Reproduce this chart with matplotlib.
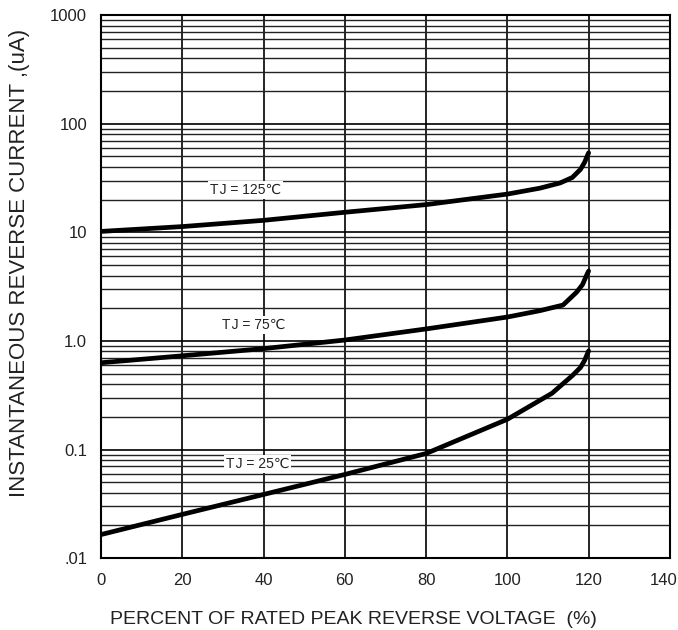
import numpy as np
import matplotlib.pyplot as plt
from matplotlib.ticker import FixedLocator, NullFormatter
from matplotlib.transforms import offset_copy

plt.rcParams['font.family'] = ['Liberation Sans', 'DejaVu Sans']

# Curvas
x_125 = [0, 20, 40, 60, 80, 100, 108, 113, 116, 118, 119, 120]
y_125 = [10.2, 11.3, 12.9, 15.3, 18.0, 22.5, 25.5, 28.5, 32.0, 38.0, 44.0, 54.0]

x_75 = [0, 20, 40, 60, 80, 100, 108, 113.7, 117, 118.5, 119.6, 120]
y_75 = [0.63, 0.73, 0.85, 1.02, 1.29, 1.66, 1.9, 2.14, 2.8, 3.3, 4.1, 4.4]

x_25 = [0, 20, 40, 60, 80, 100, 111, 116, 118, 119, 120]
y_25 = [0.0165, 0.0253, 0.0386, 0.059, 0.092, 0.19, 0.33, 0.48, 0.57, 0.66, 0.81]

etiquetas = ['T\u200aJ = 125\u2103', 'T\u200aJ = 75\u2103', 'T\u200aJ = 25\u2103']
pos_etiquetas = [(35.5, 24.5), (37.5, 1.40), (38.5, 0.074)]

yticks = [0.01, 0.1, 1, 10, 100, 1000]
ytick_labels = ['.01', '0.1', '1.0', '10', '100', '1000']
xticks = [0, 20, 40, 60, 80, 100, 120, 140]

fig = plt.figure(figsize=(6.78, 6.30), dpi=100)
ax = fig.add_axes([0.149, 0.114, 0.839, 0.862])

ax.set_yscale('log')
ax.set_xlim(0, 140)
ax.set_ylim(0.01, 1000)

# Rejilla
minors = [m * 10.0 ** d for d in range(-2, 3) for m in range(2, 10)]
ax.yaxis.set_minor_locator(FixedLocator(minors))
ax.yaxis.set_minor_formatter(NullFormatter())
ax.set_yticks(yticks)
ax.set_yticklabels(ytick_labels)
ax.set_xticks(xticks)
ax.grid(True, which='major', axis='both', color='black', linewidth=1.2)
ax.grid(True, which='minor', axis='y', color='#222222', linewidth=1.0)
ax.tick_params(which='both', length=0, labelsize=12, colors='#222222')
ax.tick_params(axis='x', pad=11)
ax.tick_params(axis='y', pad=10)
for s in ax.spines.values():
    s.set_linewidth(1.5)

# el ultimo rotulo del eje x se desplaza un poco para que quepa
ult = ax.get_xticklabels()[-1]
ult.set_transform(offset_copy(ult.get_transform(), fig=fig, x=-6, units='dots'))

ax.plot(x_125, y_125, color='black', linewidth=3.4, solid_capstyle='round')
ax.plot(x_75, y_75, color='black', linewidth=3.4, solid_capstyle='round')
ax.plot(x_25, y_25, color='black', linewidth=3.4, solid_capstyle='round')

for txt, (xp, yp) in zip(etiquetas, pos_etiquetas):
    ax.text(xp, yp, txt, fontsize=10, ha='center', va='center', color='#222222',
            bbox=dict(facecolor='white', edgecolor='none', pad=1.5))

ax.set_xlabel('PERCENT OF RATED PEAK REVERSE VOLTAGE  (%)', fontsize=14,
              color='#222222')
ax.xaxis.set_label_coords(0.443, -0.098)
ax.set_ylabel('INSTANTANEOUS REVERSE CURRENT ,(uA)', fontsize=16,
              color='#222222')
ax.yaxis.set_label_coords(-0.125, 0.543)

fig.savefig('out.png', dpi=100)
